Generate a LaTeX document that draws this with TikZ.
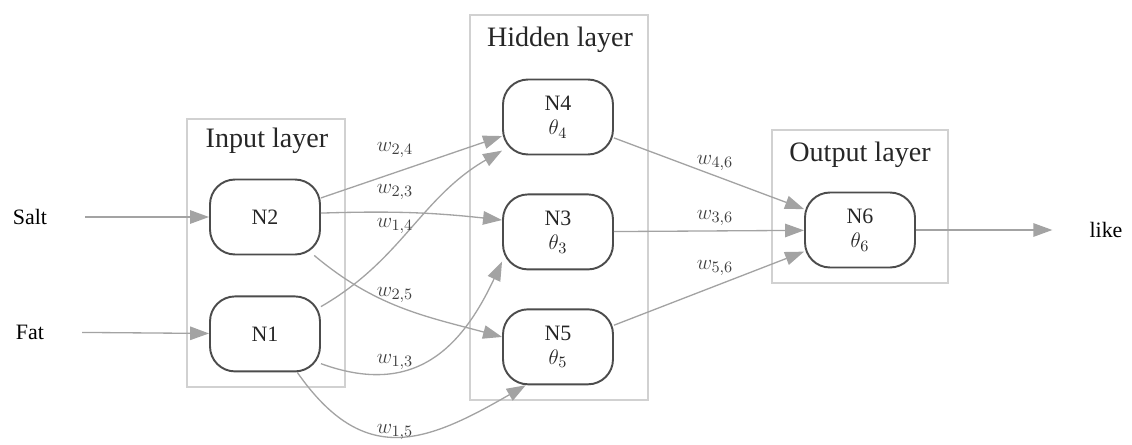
\documentclass[tikz,border=0pt]{standalone}
\usepackage{fontspec}
\setmainfont{Liberation Serif}
\usetikzlibrary{
  arrows.meta,  % Triangle tips
  positioning   % Function "of" (e.g. [below=of x])
}
\definecolor{edgegray}{gray}{0.64}
\definecolor{nodegray}{gray}{0.3}
\definecolor{boxgray}{gray}{0.82}
\tikzset{
  font=\rmfamily\fontsize{12.5}{14}\selectfont,
  >={Triangle[length=3.8mm,width=2.7mm]},
  neuron/.style={
    draw=nodegray,
    line width=1.1pt,
    rectangle,
    rounded corners=5mm,
    minimum width=2.2cm,
    minimum height=1.5cm,
    align=center,
    text=black!85
  },
  layer box/.style={
    draw=boxgray,
    line width=0.9pt,
    rectangle
  },
  layer title/.style={
    font=\rmfamily\fontsize{16}{18}\selectfont,
    text=black!85
  },
  weight/.style={
    font=\rmfamily\fontsize{13}{15}\selectfont,
    text=black!75
  },
  link/.style={
    ->,
    draw=edgegray,
    line width=0.75pt
  }
}

\begin{document}
\begin{tikzpicture}[x=0.02cm,y=0.02cm,node distance=0.76cm]
\useasboundingbox (0,0) rectangle (1132,444);
% layers
\node[layer box,minimum width=3.16cm,minimum height=5.36cm] (inbox) at (266,191) {};
\node[layer box,minimum width=3.56cm,minimum height=7.7cm] (hidbox) at (559,236.5) {};
\node[layer box,minimum width=3.52cm,minimum height=3.06cm] (outbox) at (860,237.5) {};
\node[layer title] (intitle) at (267,303) {Input layer};
\node[layer title] (hidtitle) at (560,404) {Hidden layer};
\node[layer title] (outtitle) at (860,289) {Output layer};
% neurons
\node[neuron] (N2) at (265,227) {N2};
\node[neuron] (N1) [below=0.8cm of N2] {N1};
\node[neuron] (N4) at (558,327) {N4\\$\theta_4$};
\node[neuron] (N3) [below=of N4] {N3\\$\theta_3$};
\node[neuron] (N5) [below=of N3] {N5\\$\theta_5$};
\node[neuron] (N6) at (860,214) {N6\\$\theta_6$};
% inputs and output
\node (salt) at (30,227) {Salt};
\node (fat) at (30,112) {Fat};
\node (like) at (1106,214) {like};
\draw[link,shorten <=0.64cm] (salt) -- (N2);
\draw[link,shorten <=0.64cm] (fat) -- (N1);
\draw[link,shorten >=0.62cm] (N6) -- (like);
% weights
\draw[link] (N2) -- (N4);
\draw[link] (N2.4) to[bend left=4] (N3.168);
\draw[link] (N1.26) to[out=30,in=210] (N4.211);
\draw[link] (N2.-38) to[out=-40,in=165] (N5.170);
\draw[link] (N1.-28) to[out=-20,in=245,looseness=1.2] (N3.208);
\draw[link] (N1.-50) to[out=-55,in=210,looseness=1.3] (N5.230);
\draw[link] (N4) -- (N6);
\draw[link] (N3) -- (N6);
\draw[link] (N5) -- (N6);
\node[weight] (w24) at (395,294) {$w_{2,4}$};
\node[weight] (w23) at (395,252) {$w_{2,3}$};
\node[weight] (w14) at (395,218) {$w_{1,4}$};
\node[weight] (w25) at (395,149) {$w_{2,5}$};
\node[weight] (w13) at (395,82) {$w_{1,3}$};
\node[weight] (w15) at (395,12) {$w_{1,5}$};
\node[weight] (w46) at (715,281) {$w_{4,6}$};
\node[weight] (w36) at (715,226) {$w_{3,6}$};
\node[weight] (w56) at (715,176) {$w_{5,6}$};
\end{tikzpicture}
\end{document}
